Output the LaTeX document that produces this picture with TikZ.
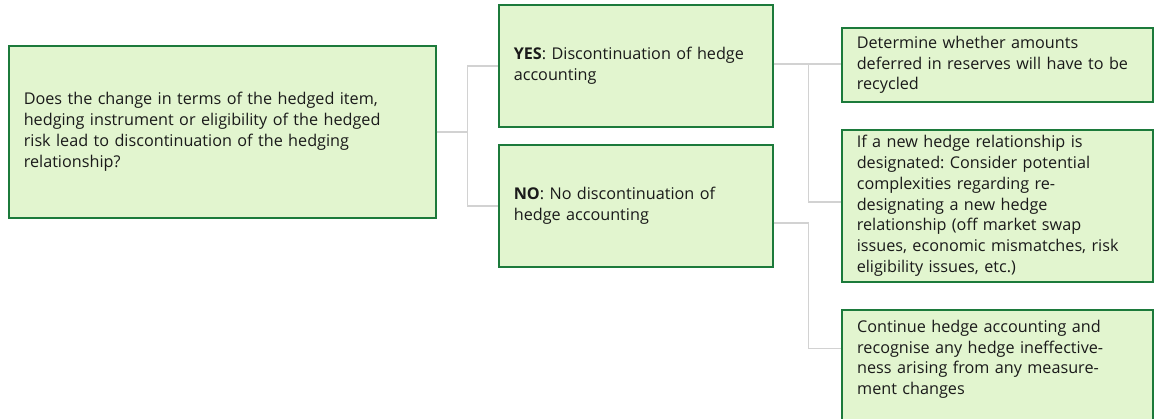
\documentclass[tikz,border=0pt]{standalone}
\usepackage{fontspec}
\setmainfont{Open Sans}
\usetikzlibrary{calc}
\frenchspacing
\definecolor{boxfill}{HTML}{E2F5CF}
\definecolor{boxline}{HTML}{1C7A3B}
\definecolor{linkgray}{HTML}{D2D2D2}
\definecolor{ink}{HTML}{1A1A1A}
\tikzset{
  boxtext/.style={text=ink, align=left, font=\fontsize{16.2}{20.7}\selectfont},
  box/.style={boxtext, draw=boxline, line width=1.6pt, fill=boxfill, anchor=north west,
    inner xsep=15pt, inner ysep=4pt},
  link/.style={draw=linkgray, line width=1.5pt},
}
\begin{document}
\begin{tikzpicture}[x=1pt,y=-1pt]
\useasboundingbox (0,0) rectangle (1160,419);

% question
\node[box, minimum width=427pt, minimum height=172pt, text width=397pt] (Q) at (8,45)
  {Does the change in terms of the hedged item,\\
   hedging instrument or eligibility of the hedged\\
   risk lead to discontinuation of the hedging\\
   relationship?};

% answers
\node[box, minimum width=274pt, minimum height=122pt, text width=244pt] (yes) at (498,4)
  {\textbf{YES}: Discontinuation of hedge\\ accounting};
\node[box, minimum width=274pt, minimum height=122pt, text width=244pt] (no) at (498,144)
  {\textbf{NO}: No discontinuation of\\ hedge accounting};

% consequences
\node[box, minimum width=311pt, minimum height=74pt, text width=281pt] (recycle) at (841,27)
  {Determine whether amounts\\ deferred in reserves will have to be\\ recycled};
\node[box, minimum width=311pt, minimum height=152pt, text width=281pt] (redesign) at (841,129)
  {If a new hedge relationship is\\ designated: Consider potential\\ complexities regarding re-\\
   designating a new hedge\\ relationship (off market swap\\ issues, economic mismatches, risk\\
   eligibility issues, etc.)};
\node[box, minimum width=311pt, minimum height=131pt] (cont) at (841,309) {};
\node[boxtext, anchor=north west, inner sep=0pt, text width=281pt] (conttext)
  at ([xshift=16pt,yshift=-11pt]cont.north west)
  {Continue hedge accounting and\\ recognise any hedge ineffective-\\ ness arising from any measure-\\ ment changes};

% connectors
\draw[link] (Q.east) -- ++(31,0) coordinate (qj) |- (yes.west);
\draw[link] (qj) |- (no.west);
\draw[link] ([yshift=2pt]yes.east) -- ++(35,0) coordinate (yj) |- ([yshift=1pt]recycle.west);
\draw[link] (yj) |- ([yshift=4pt]redesign.west);
\draw[link] ([yshift=-17pt]no.east) -- ++(35,0) |- ([yshift=27pt]cont.west);
\end{tikzpicture}
\end{document}
